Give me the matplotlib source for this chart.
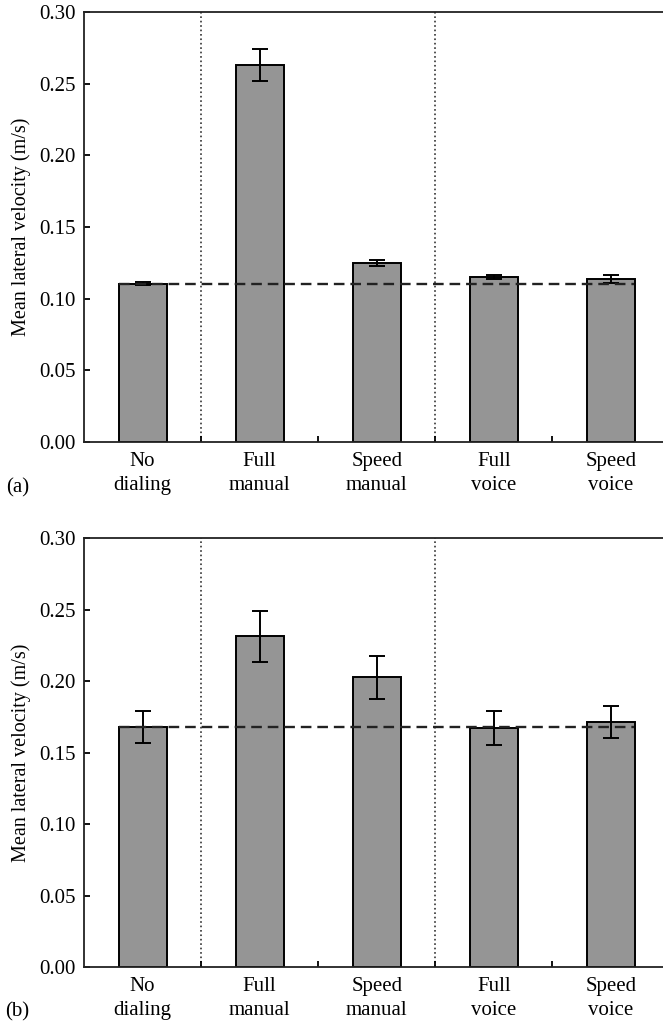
import matplotlib
matplotlib.use('Agg')
import matplotlib.pyplot as plt

plt.rcParams['font.family'] = ['Liberation Serif', 'DejaVu Serif']

# Conditions
categories = ['No\ndialing', 'Full\nmanual', 'Speed\nmanual', 'Full\nvoice', 'Speed\nvoice']

# Panel (a)
means_a = [0.1105, 0.263, 0.125, 0.1152, 0.1138]
errs_a = [0.001, 0.011, 0.002, 0.0016, 0.003]
baseline_a = 0.110

# Panel (b)
means_b = [0.168, 0.2313, 0.2027, 0.1671, 0.1713]
errs_b = [0.011, 0.018, 0.015, 0.012, 0.011]
baseline_b = 0.168

yticks = [0.00, 0.05, 0.10, 0.15, 0.20, 0.25, 0.30]


def draw_panel(ax, means, errs, baseline):
    x = list(range(len(categories)))
    ax.bar(x, means, width=0.41, color='#959595', edgecolor='black',
           linewidth=1.4, zorder=2)
    ax.errorbar(x, means, yerr=errs, fmt='none', ecolor='black',
                elinewidth=1.4, capsize=5.5, capthick=1.4, zorder=3)
    # dotted separators between task groups
    for xv in (0.5, 2.5):
        ax.axvline(xv, color='#333333', linestyle=':', linewidth=1.2, zorder=1)
    # baseline (no dialing) reference
    ax.plot([-0.2, 4.2], [baseline, baseline], color='#222222',
            linestyle=(0, (4.5, 2.5)), linewidth=1.7, zorder=4)

    ax.set_xlim(-0.5, 4.5)
    ax.set_ylim(0, 0.30)
    ax.set_yticks(yticks)
    ax.set_yticklabels([f'{v:.2f}' for v in yticks])
    ax.set_xticks([0.5, 1.5, 2.5, 3.5])
    ax.set_xticklabels([])
    ax.set_xticks(x, minor=True)
    ax.set_xticklabels(categories, minor=True, linespacing=1.4)
    ax.tick_params(axis='x', which='major', direction='in', length=4,
                   width=1.3, top=False)
    ax.tick_params(axis='x', which='minor', length=0, pad=7, labelsize=15)
    ax.tick_params(axis='y', direction='in', length=4, width=1.3,
                   right=False, pad=6, labelsize=15)
    for side in ('left', 'bottom', 'top'):
        ax.spines[side].set_linewidth(1.3)
        ax.spines[side].set_color('#222222')
    ax.spines['right'].set_visible(False)
    ax.set_ylabel('Mean lateral velocity (m/s)', fontsize=14.5, labelpad=6)


fig = plt.figure(figsize=(6.63, 10.27), dpi=100)
ax_a = fig.add_axes([0.1267, 0.5696, 0.883, 0.4187])
ax_b = fig.add_axes([0.1267, 0.0584, 0.883, 0.4177])

draw_panel(ax_a, means_a, errs_a, baseline_a)
draw_panel(ax_b, means_b, errs_b, baseline_b)

fig.text(0.026, 1 - 488 / 1027, '(a)', fontsize=15, ha='center', va='center')
fig.text(0.026, 1 - 1012 / 1027, '(b)', fontsize=15, ha='center', va='center')

fig.savefig('out.png', dpi=100)
